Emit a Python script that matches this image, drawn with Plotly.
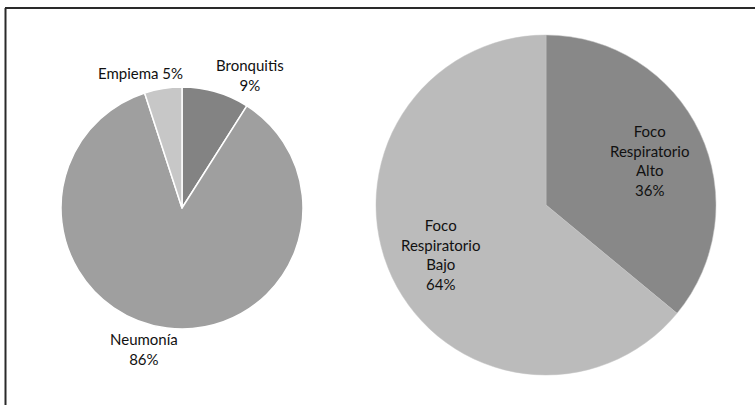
import plotly.graph_objects as go

W, H = 755, 405

# Data
left_labels = ["Bronquitis", "Neumonía", "Empiema"]
left_values = [9, 86, 5]
right_labels = ["Foco Respiratorio Alto", "Foco Respiratorio Bajo"]
right_values = [36, 64]

left_colors = ["#838383", "#9f9f9f", "#c7c7c7"]
right_colors = ["#888888", "#bbbbbb"]

def px_x(x):
    return x / W

def px_y(y):
    return 1 - y / H

fig = go.Figure()

# Left pie: center (182, 208), r = 121
lcx, lcy, lr = 182, 208, 121
fig.add_trace(go.Pie(
    labels=left_labels, values=left_values, sort=False, direction="clockwise", rotation=0,
    marker=dict(colors=left_colors, line=dict(color="#ffffff", width=1.5)),
    textinfo="none", hoverinfo="label+percent", showlegend=False,
    domain=dict(x=[px_x(lcx - lr), px_x(lcx + lr)], y=[px_y(lcy + lr), px_y(lcy - lr)]),
))

# Right pie: center (546, 205), r = 170
rcx, rcy, rr = 546, 205, 170
fig.add_trace(go.Pie(
    labels=right_labels, values=right_values, sort=False, direction="clockwise", rotation=0,
    marker=dict(colors=right_colors, line=dict(color="#c4c4c4", width=0.5)),
    textinfo="none", hoverinfo="label+percent", showlegend=False,
    domain=dict(x=[px_x(rcx - rr), px_x(rcx + rr)], y=[px_y(rcy + rr), px_y(rcy - rr)]),
))

font = dict(family="Lato, 'Open Sans', sans-serif", size=15, color="#111111")

# label positions (pixels, layout only)
left_pos = [(250, 75), (144, 349), (140, 73)]
left_texts = [
    f"{left_labels[0]}<br>{left_values[0]}%",
    f"{left_labels[1]}<br>{left_values[1]}%",
    f"{left_labels[2]} {left_values[2]}%",
]
for (x, y), t in zip(left_pos, left_texts):
    fig.add_annotation(x=px_x(x), y=px_y(y), xref="paper", yref="paper", text=t,
                       showarrow=False, font=font, xanchor="center", yanchor="middle")

right_pos = [(649, 161), (440, 254)]
for (x, y), lab, v in zip(right_pos, right_labels, right_values):
    t = "<br>".join(lab.split(" ")) + f"<br>{v}%"
    fig.add_annotation(x=px_x(x), y=px_y(y), xref="paper", yref="paper", text=t,
                       showarrow=False, font=font, xanchor="center", yanchor="middle")

# frame lines (top and left)
fig.add_shape(type="line", xref="paper", yref="paper", x0=px_x(5), x1=1.0, y0=px_y(8), y1=px_y(8),
              line=dict(color="#2a2a2a", width=2))
fig.add_shape(type="line", xref="paper", yref="paper", x0=px_x(5.5), x1=px_x(5.5), y0=0, y1=px_y(8),
              line=dict(color="#2a2a2a", width=2))

fig.update_layout(
    width=W, height=H, margin=dict(l=0, r=0, t=0, b=0),
    paper_bgcolor="#ffffff", plot_bgcolor="#ffffff",
)

fig.write_html("out.html")
